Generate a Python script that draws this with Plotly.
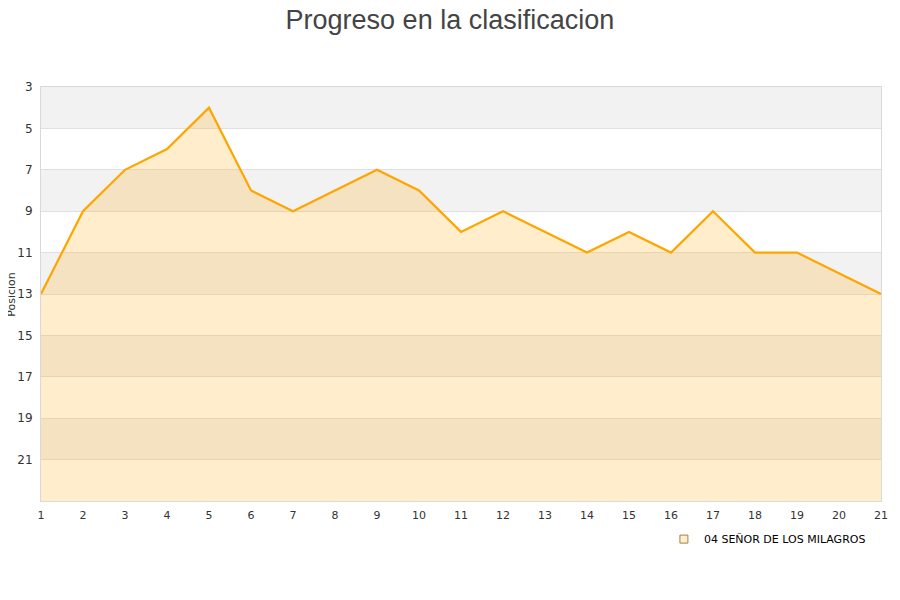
import plotly.graph_objects as go

# Jornadas y posicion del equipo
jornadas = list(range(1, 22))
posiciones = [13, 9, 7, 6, 4, 8, 9, 8, 7, 8, 10, 9, 10, 11, 10, 11, 9, 11, 11, 12, 13]
equipo = "04 SEÑOR DE LOS MILAGROS"
y_ticks = list(range(3, 22, 2))
y_min, y_max = 3, 23

fig = go.Figure()

# base para rellenar hasta el fondo del grafico
fig.add_trace(go.Scatter(
    x=jornadas, y=[y_max] * len(jornadas),
    mode='lines', line=dict(width=0, color='rgba(0,0,0,0)'),
    hoverinfo='skip', showlegend=False
))
fig.add_trace(go.Scatter(
    x=jornadas, y=posiciones,
    mode='lines', name=equipo,
    line=dict(color='#ffa500', width=2.2),
    fill='tonexty', fillcolor='rgba(255,165,0,0.2)',
    showlegend=False
))
# entrada de leyenda con cuadrado
fig.add_trace(go.Scatter(
    x=[None], y=[None], mode='markers', name=equipo,
    marker=dict(symbol='square', size=8, color='#ffedcc',
                line=dict(color='#a08050', width=1))
))

# bandas alternas
for lo in y_ticks[::2]:
    fig.add_hrect(y0=lo, y1=lo + 2, fillcolor='#f2f2f2', line_width=0, layer='below')

# titulo del eje y como anotacion
fig.add_annotation(text='Posicion', xref='paper', yref='paper', x=-0.036, y=0.5,
                   xanchor='center', yanchor='middle', textangle=-90, showarrow=False,
                   font=dict(size=11, color='#333333'))

fig.update_layout(
    title=dict(text='Progreso en la clasificacion', x=0.491, xanchor='center',
               y=1, yanchor='top', pad=dict(t=2),
               font=dict(family='Liberation Sans, Arial', size=27, color='#444444')),
    width=900, height=600,
    margin=dict(l=33, r=27, t=79, b=107, autoexpand=False),
    plot_bgcolor='white', paper_bgcolor='white',
    font=dict(family='DejaVu Sans', size=11, color='#333333'),
    showlegend=True,
    legend=dict(orientation='h', x=0.988, xanchor='right', y=-0.057, yanchor='top',
                font=dict(size=11, color='#000000'), bgcolor='rgba(0,0,0,0)'),
)
fig.update_xaxes(range=[1, 21], tickmode='linear', tick0=1, dtick=1, automargin=False,
                 showgrid=False, zeroline=False, showline=True, linecolor='#d9d9d9',
                 linewidth=1, mirror=True, ticks='outside', ticklen=4,
                 tickcolor='rgba(0,0,0,0)', tickfont=dict(size=11, color='#333333'))
fig.update_yaxes(range=[y_max, y_min], tickvals=y_ticks, automargin=False,
                 showgrid=True, gridcolor='#e0e0e0', zeroline=False,
                 showline=True, linecolor='#d9d9d9', linewidth=1, mirror=True,
                 ticks='', ticklabelstandoff=5,
                 tickfont=dict(size=12, color='#333333'))

fig.write_html("out.html")
